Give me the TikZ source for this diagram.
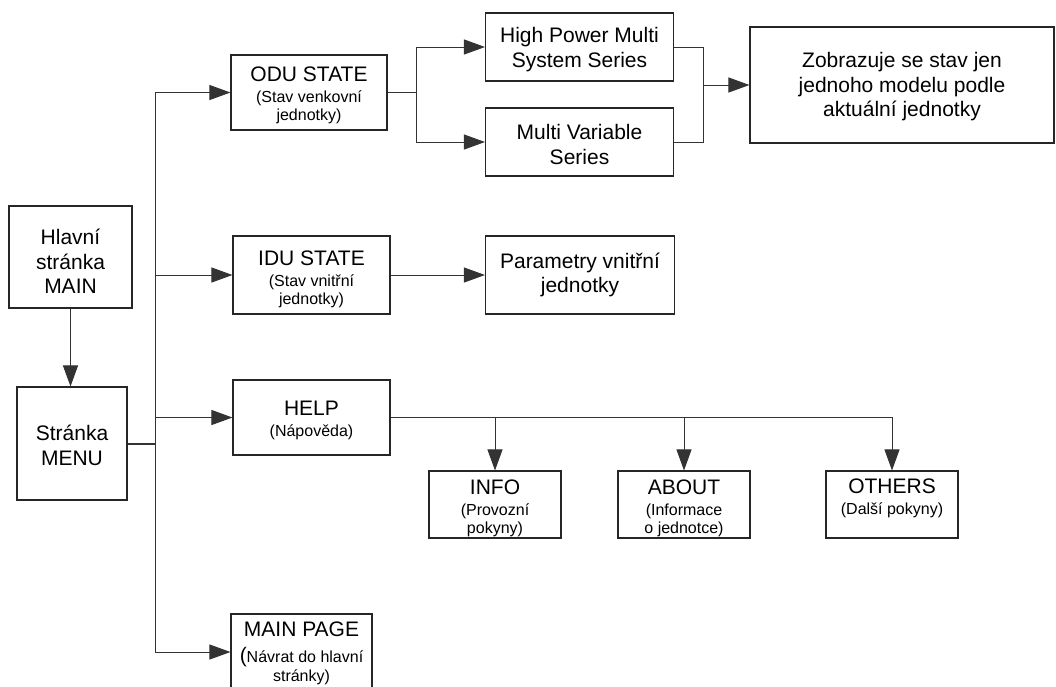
\documentclass[tikz,border=0pt]{standalone}
\usepackage{fontspec}
\setmainfont{Liberation Sans}
\usetikzlibrary{arrows.meta}
\newcommand\fbig{\fontsize{21}{24.5}\selectfont}
\newcommand\fsmall{\fontsize{16}{18.5}\selectfont}
\begin{document}
\begin{tikzpicture}[x=1pt,y=-1pt,
  box/.style={draw=black!85, line width=1.1pt, fill=white, inner sep=0pt},
  txt/.style={align=center, inner sep=0pt, font=\fbig, yshift=-3pt},
  conn/.style={draw=black!80, line width=1pt},
  arr/.style={conn, -{Triangle[length=21pt,width=15pt]}},
]
\useasboundingbox (0,0) rectangle (1056,686);
\clip (0,0) rectangle (1056,686);
\fill[white] (0,0) rectangle (1056,686);

% left column
\node[box, minimum width=123pt, minimum height=102pt,
  label={[txt, yshift=-1.5pt]center:{Hlavní\\stránka\\MAIN}}] (main) at (70.5,257) {};
\node[box, minimum width=110pt, minimum height=113pt,
  label={[txt, yshift=1pt]center:{Stránka\\MENU}}] (menu) at (72,443.5) {};

% second column
\node[box, minimum width=156pt, minimum height=75pt,
  label={[txt]center:{ODU STATE\\[-3.5pt]\fsmall (Stav venkovní\\[-6.5pt]\fsmall jednotky)}}] (odu) at (309,92.5) {};
\node[box, minimum width=157pt, minimum height=78pt,
  label={[txt, yshift=-1pt]center:{IDU STATE\\[-3.5pt]\fsmall (Stav vnitřní\\[-6.5pt]\fsmall jednotky)}}] (idu) at (311.5,275) {};
\node[box, minimum width=157pt, minimum height=75pt,
  label={[txt]center:{HELP\\[-3.5pt]\fsmall (Nápověda)}}] (help) at (311.5,417.5) {};
\node[box, minimum width=141pt, minimum height=76pt,
  label={[txt, yshift=1.5pt]center:{MAIN PAGE\\[1.5pt]{\fbig(}\fsmall Návrat do hlavní\\[-5pt]\fsmall stránky)}}] (mainpage) at (301.5,652) {};

% third column
\node[box, minimum width=188pt, minimum height=68pt,
  label={[txt, yshift=0.5pt]center:{High Power Multi\\System Series}}] (hp) at (579.5,47) {};
\node[box, minimum width=188pt, minimum height=68pt,
  label={[txt, yshift=0.5pt]center:{Multi Variable\\Series}}] (mv) at (579.5,142) {};
\node[box, minimum width=189pt, minimum height=78pt,
  label={[txt, yshift=3pt]center:{Parametry vnitřní\\jednotky}}] (par) at (580,275) {};
\node[box, minimum width=304pt, minimum height=116pt,
  label={[txt, yshift=1pt]center:{Zobrazuje se stav jen\\jednoho modelu podle\\aktuální jednotky}}] (zob) at (902,85) {};

% help children
\node[box, minimum width=132pt, minimum height=67pt,
  label={[txt, yshift=-1pt]center:{INFO\\[-3.5pt]\fsmall (Provozní\\[-6.5pt]\fsmall pokyny)}}] (info) at (495,504.5) {};
\node[box, minimum width=132pt, minimum height=67pt,
  label={[txt, yshift=-1pt]center:{ABOUT\\[-3.5pt]\fsmall (Informace\\[-6.5pt]\fsmall o jednotce)}}] (about) at (684,504.5) {};
\node[box, minimum width=132pt, minimum height=67pt,
  label={[txt, yshift=-1pt]center:{OTHERS\\[-3.5pt]\fsmall (Další pokyny)\\[-6.5pt]\fsmall\strut}}] (others) at (892,504.5) {};

% connectors
\coordinate (bus) at (155,0);
\coordinate (split) at (416,0);
\coordinate (merge) at (703,85);

\draw[arr] (main.south) -- (main.south |- menu.north);
\draw[conn, line width=2pt] (menu.east) -- (menu.east -| bus);
\draw[arr] (menu.east -| bus) |- (odu.west);
\draw[arr] (menu.east -| bus) |- (idu.west);
\draw[arr] (menu.east -| bus) |- (help.west);
\draw[arr] (menu.east -| bus) |- (mainpage.west);

\draw[arr] (odu.east) -- (odu.east -| split) |- (hp.west);
\draw[arr] (odu.east -| split) |- (mv.west);

\draw[conn] (hp.east) -| (merge);
\draw[conn] (mv.east) -| (merge);
\draw[arr] (merge) -- (zob.west);

\draw[arr] (idu.east) -- (par.west);

\draw[arr] (help.east) -| (info.north);
\draw[arr] (help.east) -| (about.north);
\draw[arr] (help.east) -| (others.north);
\end{tikzpicture}
\end{document}
